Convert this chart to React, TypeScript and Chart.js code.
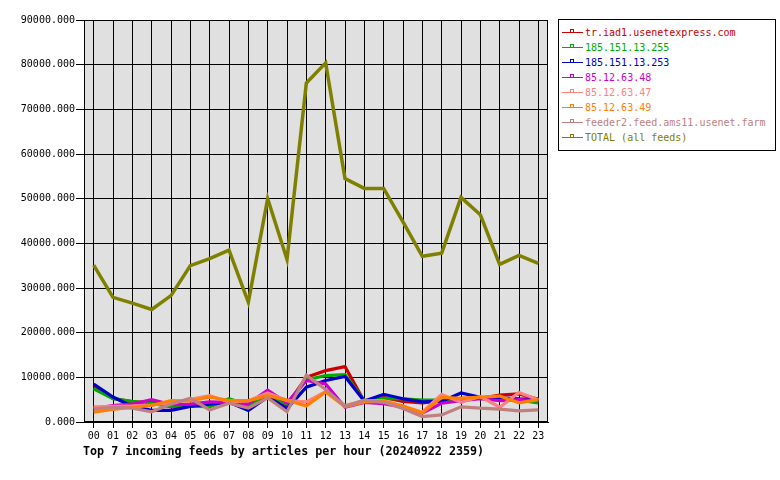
import React, { useEffect, useRef } from "react";
import { Chart, registerables } from "chart.js";

Chart.register(...registerables);

const hours = ["00","01","02","03","04","05","06","07","08","09","10","11","12","13","14","15","16","17","18","19","20","21","22","23"];

const seriesNames = [
  "tr.iad1.usenetexpress.com",
  "185.151.13.255",
  "185.151.13.253",
  "85.12.63.48",
  "85.12.63.47",
  "85.12.63.49",
  "feeder2.feed.ams11.usenet.farm",
  "TOTAL (all feeds)",
];

const seriesColors = ["#cc0000", "#00aa00", "#0000cc", "#cc00cc", "#ff8080", "#ff8000", "#c08080", "#808000"];

const trIad1 = [7800, 5300, 4500, 4400, 3400, 3800, 3600, 5000, 3700, 6000, 3800, 10000, 11500, 12400, 4600, 5500, 4600, 4300, 4800, 5300, 5300, 6000, 6300, 5100];
const ip255 = [7400, 5200, 4600, 4100, 3500, 3600, 3400, 5200, 3800, 6000, 4000, 9400, 10400, 10600, 4800, 5300, 5200, 4900, 4900, 5200, 5400, 5000, 4900, 4300];
const ip253 = [8500, 5600, 3500, 2600, 2600, 3500, 4000, 4400, 2600, 5600, 3000, 7800, 9300, 10200, 4700, 6200, 5200, 4500, 4600, 6500, 5500, 5400, 5200, 5100];
const ip48 = [3000, 3700, 4000, 5000, 3900, 4000, 4500, 4400, 4100, 7100, 4300, 9300, 8500, 3300, 4400, 4100, 3300, 2000, 4200, 4800, 5200, 4800, 5000, 4800];
const ip47 = [3400, 3500, 3600, 3800, 4300, 5100, 5900, 4500, 4700, 6500, 4800, 4500, 6800, 3700, 4800, 4800, 3600, 2200, 6200, 4400, 5700, 3300, 6600, 5000];
const ip49 = [2200, 2800, 3300, 3700, 4800, 4700, 5600, 4800, 4800, 5900, 4900, 3600, 6700, 3400, 4500, 4600, 3500, 2000, 5500, 5300, 5600, 5800, 4300, 5000];
const feeder2 = [2900, 3300, 3100, 2300, 4000, 5300, 2700, 4200, 3100, 5400, 2300, 10500, 7300, 3500, 4900, 4400, 3000, 1200, 1600, 3400, 3100, 2900, 2500, 2700];
const total = [35100, 27900, 26600, 25200, 28300, 35000, 36600, 38500, 26800, 50000, 36400, 75900, 80400, 54500, 52300, 52300, 44800, 37100, 37800, 50300, 46400, 35300, 37300, 35500];

const seriesValues = [trIad1, ip255, ip253, ip48, ip47, ip49, feeder2, total];

const yTicksMax = 90000;
const yTickStep = 10000;
const titleText = "Top 7 incoming feeds by articles per hour (20240922 2359)";

const MONO = '"DejaVu Sans Mono", "Liberation Mono", monospace';

const framePlugin = {
  id: "frame",
  beforeDraw(chart: any) {
    const { ctx, chartArea } = chart;
    ctx.save();
    ctx.fillStyle = "#ffffff";
    ctx.fillRect(0, 0, chart.width, chart.height);
    ctx.fillStyle = "#e0e0e0";
    ctx.fillRect(chartArea.left, chartArea.top, chartArea.right - chartArea.left, chartArea.bottom - chartArea.top);
    ctx.restore();
  },
  afterDraw(chart: any) {
    const { ctx, chartArea } = chart;
    ctx.save();
    ctx.strokeStyle = "#000";
    ctx.lineWidth = 1;
    const l = Math.round(chartArea.left) + 0.5;
    const r = Math.round(chartArea.right) - 0.5;
    const t = Math.round(chartArea.top) + 0.5;
    const b = Math.round(chartArea.bottom) - 0.5;
    ctx.strokeRect(l, t, r - l, b - t);
    ctx.fillStyle = "#000";
    ctx.font = `bold 11.7px ${MONO}`;
    ctx.textBaseline = "middle";
    ctx.textAlign = "left";
    ctx.fillText(titleText, 83, 452);
    ctx.restore();
  },
};

function ChartView() {
  const ref = useRef<HTMLCanvasElement | null>(null);
  useEffect(() => {
    if (!ref.current) return;
    const n = seriesValues.length;
    const chart = new Chart(ref.current, {
      type: "line",
      data: {
        labels: hours,
        datasets: seriesValues.map((vals, i) => ({
          label: seriesNames[i],
          data: vals,
          borderColor: seriesColors[i],
          backgroundColor: seriesColors[i],
          borderWidth: i === n - 1 ? 3.5 : 3.2,
          pointRadius: 0,
          tension: 0,
          fill: false,
          order: n - i,
        })),
      },
      options: {
        animation: false,
        responsive: false,
        layout: { padding: { left: 0, top: 20, right: 232, bottom: 36 } },
        plugins: {
          legend: { display: false },
          tooltip: { enabled: false },
          title: { display: false },
        },
        scales: {
          x: {
            type: "category",
            offset: true,
            grid: { color: "#000", lineWidth: 1, offset: false, tickLength: 6, drawTicks: true },
            border: { display: true, color: "#000" },
            ticks: {
              color: "#000",
              font: { family: MONO, size: 10 },
              autoSkip: false,
              maxRotation: 0,
              padding: 2,
            },
            afterFit: (s: any) => { s.height = 22; },
          },
          y: {
            min: 0,
            max: yTicksMax,
            grid: { color: "#000", lineWidth: 1, tickLength: 8, drawTicks: true },
            border: { display: true, color: "#000" },
            ticks: {
              stepSize: yTickStep,
              color: "#000",
              font: { family: MONO, size: 10 },
              padding: 1,
              callback: (v: any) => Number(v).toFixed(3),
            },
            afterFit: (s: any) => { s.width = 84; },
          },
        },
      },
      plugins: [framePlugin],
    } as any);
    return () => chart.destroy();
  }, []);
  return <canvas ref={ref} width={780} height={480} style={{ display: "block" }} />;
}

function Legend() {
  return (
    <div
      style={{
        position: "absolute",
        left: 558,
        top: 19,
        width: 218,
        height: 132,
        boxSizing: "border-box",
        border: "1px solid #000",
        background: "#fff",
        fontFamily: MONO,
        fontSize: 10,
      }}
    >
      {seriesNames.map((name, i) => (
        <div
          key={name}
          style={{ position: "absolute", left: 0, top: 5 + i * 15, height: 15, width: 214 }}
        >
          <span
            style={{
              position: "absolute", left: 3, top: 7, width: 21, height: 1,
              background: seriesColors[i],
            }}
          />
          <span
            style={{
              position: "absolute", left: 11, top: 4, width: 4, height: 4,
              boxSizing: "border-box", border: `1px solid ${seriesColors[i]}`,
            }}
          />
          <span
            style={{
              position: "absolute", left: 26, top: 0, lineHeight: "15px",
              color: seriesColors[i], whiteSpace: "nowrap",
            }}
          >
            {name}
          </span>
        </div>
      ))}
    </div>
  );
}

export default function App() {
  return (
    <div style={{ position: "absolute", left: 0, top: 0, width: 780, height: 480, background: "#fff" }}>
      <ChartView />
      <Legend />
    </div>
  );
}
